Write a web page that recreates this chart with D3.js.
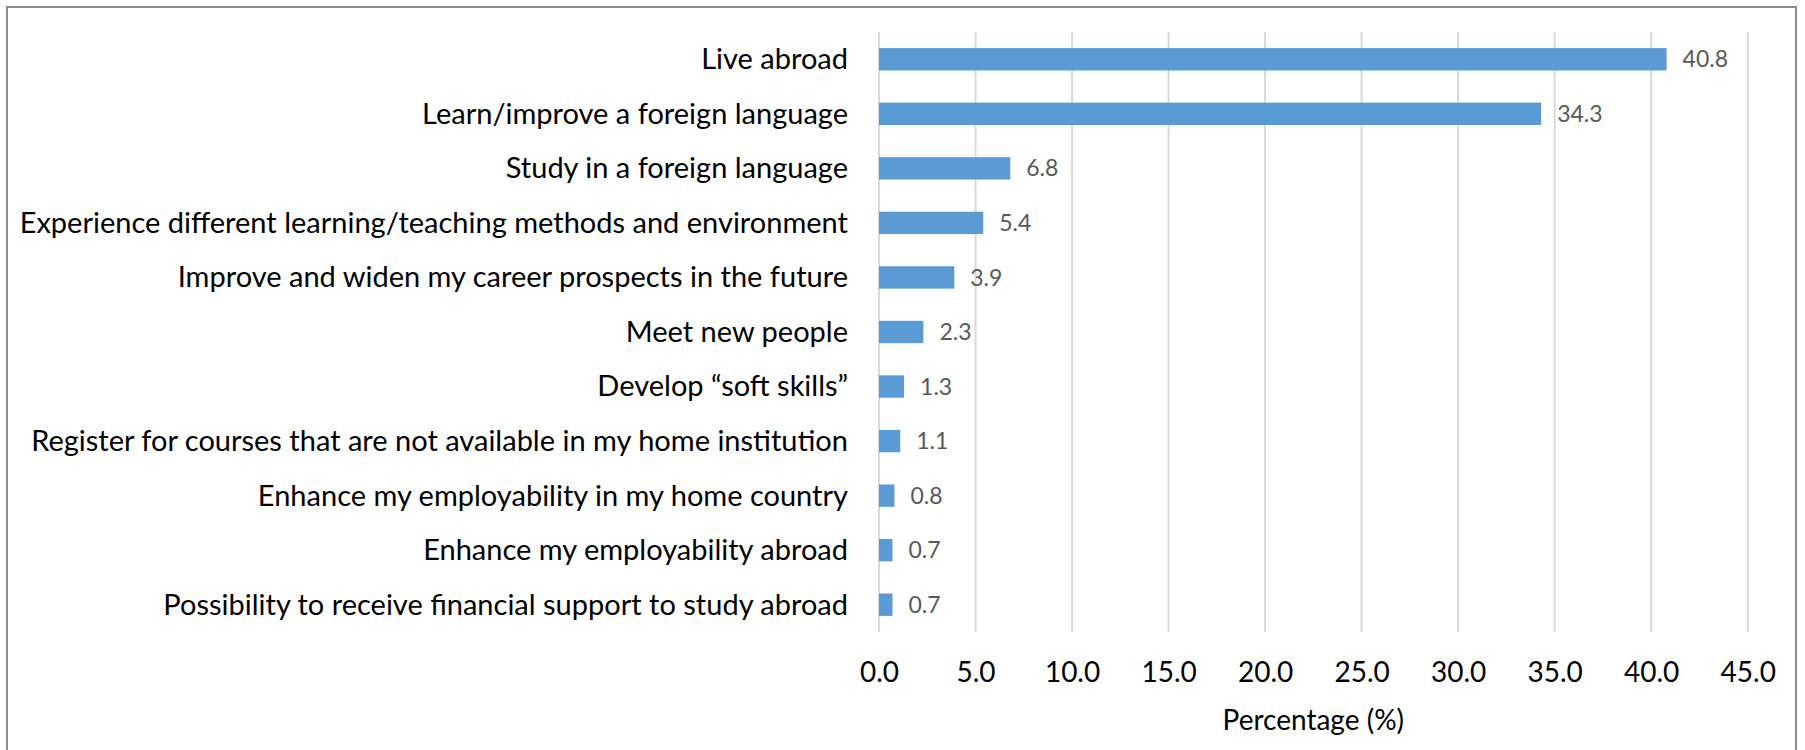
<!DOCTYPE html>
<html>
<head>
<meta charset="utf-8">
<script src="https://cdn.jsdelivr.net/npm/d3@7"></script>
<style>
  html, body { margin: 0; padding: 0; background: #fff; }
  svg { display: block; }
  text { font-family: Lato, "Open Sans", sans-serif; }
</style>
</head>
<body>
<svg id="chart" width="1805" height="750"></svg>
<script>
// Motivations for studying abroad, share of respondents (%)
const categories = [
  "Live abroad",
  "Learn/improve a foreign language",
  "Study in a foreign language",
  "Experience different learning/teaching methods and environment",
  "Improve and widen my career prospects in the future",
  "Meet new people",
  "Develop \u201csoft skills\u201d",
  "Register for courses that are not available in my home institution",
  "Enhance my employability in my home country",
  "Enhance my employability abroad",
  "Possibility to receive financial support to study abroad"
];
const values = [40.8, 34.3, 6.8, 5.4, 3.9, 2.3, 1.3, 1.1, 0.8, 0.7, 0.7];
const tickValues = [0, 5, 10, 15, 20, 25, 30, 35, 40, 45];
const axisTitle = "Percentage (%)";

const svg = d3.select("#chart");

// outer frame
svg.append("rect")
  .attr("x", 7).attr("y", 7)
  .attr("width", 1789).attr("height", 760)
  .attr("fill", "none")
  .attr("stroke", "#8c8c8c")
  .attr("stroke-width", 2);

const plot = { left: 879, right: 1747.7, top: 32, bottom: 632 };

const x = d3.scaleLinear().domain([0, 45]).range([plot.left, plot.right]);
const y = d3.scaleBand()
  .domain(categories)
  .range([plot.top, plot.bottom])
  .paddingInner(0.59)
  .paddingOuter(0.295);

// vertical gridlines
svg.append("g")
  .selectAll("line")
  .data(tickValues)
  .join("line")
  .attr("x1", d => x(d)).attr("x2", d => x(d))
  .attr("y1", plot.top).attr("y2", plot.bottom)
  .attr("stroke", "#d9d9d9")
  .attr("stroke-width", 2);

// x axis tick labels
const xAxis = d3.axisBottom(x)
  .tickValues(tickValues)
  .tickFormat(d3.format(".1f"))
  .tickSize(0)
  .tickPadding(0);
const gx = svg.append("g")
  .attr("transform", `translate(0, ${plot.bottom})`)
  .call(xAxis);
gx.select(".domain").remove();
gx.selectAll("text")
  .attr("y", 50)
  .attr("dy", 0)
  .attr("fill", "#000")
  .style("font-size", "28px")
  .style("font-family", "Lato, sans-serif");

// category labels
const yAxis = d3.axisLeft(y).tickSize(0).tickPadding(0);
const gy = svg.append("g")
  .attr("transform", `translate(${plot.left - 31}, 0)`)
  .call(yAxis);
gy.select(".domain").remove();
gy.selectAll("text")
  .attr("x", 0)
  .attr("dy", "0.34em")
  .attr("fill", "#000")
  .style("font-size", "29px")
  .style("font-family", "Lato, sans-serif");

// bars
svg.append("g")
  .selectAll("rect")
  .data(values)
  .join("rect")
  .attr("x", x(0))
  .attr("y", (d, i) => y(categories[i]))
  .attr("width", d => x(d) - x(0))
  .attr("height", y.bandwidth())
  .attr("fill", "#5b9bd5");

// value labels
svg.append("g")
  .selectAll("text")
  .data(values)
  .join("text")
  .attr("x", d => x(d) + 16)
  .attr("y", (d, i) => y(categories[i]) + y.bandwidth() / 2)
  .attr("dy", "0.35em")
  .attr("fill", "#595959")
  .style("font-size", "23px")
  .text(d => d3.format(".1f")(d));

// axis title
svg.append("text")
  .attr("x", (plot.left + plot.right) / 2)
  .attr("y", 730)
  .attr("text-anchor", "middle")
  .attr("fill", "#000")
  .style("font-size", "28px")
  .text(axisTitle);
</script>
</body>
</html>
